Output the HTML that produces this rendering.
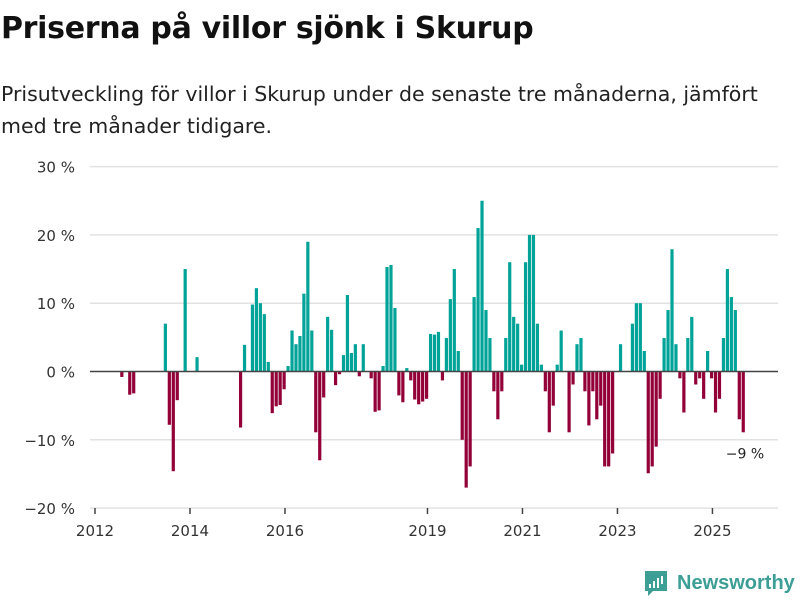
<!DOCTYPE html>
<html><head><meta charset="utf-8">
<style>
body{margin:0;background:#fff;width:800px;height:600px;overflow:hidden;font-family:"DejaVu Sans","Liberation Sans",sans-serif;color:#111}
#title{position:absolute;left:1px;top:11px;font-size:30px;font-weight:bold;margin:0;letter-spacing:-0.3px;white-space:nowrap}
#sub{position:absolute;left:1px;top:78px;font-size:20.5px;line-height:32px;color:#222;margin:0;width:798px}
svg{position:absolute;left:0;top:0}
</style></head><body>
<h1 id="title">Priserna på villor sjönk i Skurup</h1>
<p id="sub">Prisutveckling för villor i Skurup under de senaste tre månaderna, jämfört med tre månader tidigare.</p>
<svg id="chart" width="800" height="600"></svg>
<script>
const startYear = 2012;
const values = [
0,0,0,0,0,0,-0.8,0,-3.4,-3.2,0,0,
0,0,0,0,0,7.0,-7.8,-14.6,-4.2,0,15.0,0,
0,2.1,0,0,0,0,0,0,0,0,0,0,
-8.2,3.9,0,9.8,12.2,10.0,8.4,1.4,-6.1,-5.1,-4.9,-2.6,
0.8,6.0,4.0,5.2,11.4,19.0,6.0,-8.9,-13.0,-3.8,8.0,6.1,
-2.0,-0.4,2.4,11.2,2.7,4.0,-0.7,4.0,0,-1.0,-5.9,-5.7,
0.8,15.3,15.6,9.3,-3.5,-4.5,0.5,-1.3,-4.1,-4.8,-4.4,-4.0,
5.5,5.4,5.8,-1.3,4.9,10.6,15.0,3.0,-10.0,-17.0,-13.9,10.9,
21.0,25.0,9.0,4.9,-2.9,-7.0,-2.9,4.9,16.0,8.0,7.0,1.0,
16.0,20.0,20.0,7.0,1.0,-2.9,-8.9,-5.0,1.0,6.0,0,-8.9,
-1.9,4.0,4.9,-2.9,-7.9,-2.9,-7.0,-5.0,-13.9,-13.9,-12.0,0,
4.0,0,0,7.0,10.0,10.0,3.0,-14.9,-13.9,-11.0,-4.0,4.9,
9.0,17.9,4.0,-1.0,-6.0,4.9,8.0,-1.9,-1.0,-4.0,3.0,-1.0,
-6.0,-4.0,4.9,15.0,10.9,9.0,-7.0,-8.9
];
const yTicks = [30,20,10,0,-10,-20];
const yTickLabels = ["30 %","20 %","10 %","0 %","−10 %","−20 %"];
const xTickYears = [2012,2014,2016,2019,2021,2023,2025];
const lastLabel = "−9 %";

const svg = document.getElementById('chart');
const NS = 'http://www.w3.org/2000/svg';
const FONT = 'DejaVu Sans, Liberation Sans, sans-serif';
function y(v){ return 371.5 - v*6.83; }
function xm(m){ return 95 + m*3.958; }
function mk(tag, attrs){ const e=document.createElementNS(NS,tag); for(const k in attrs) e.setAttribute(k,attrs[k]); svg.appendChild(e); return e; }

yTicks.forEach((t,i)=>{
  if(t!==0){
    const g=mk('line',{x1:90,x2:778,y1:y(t),y2:y(t),stroke:'#e2e2e2','stroke-width':1.5});
    
    
  }
  const tx=mk('text',{x:75,y:y(t)+6,'text-anchor':'end','font-size':15,fill:'#333','font-family':FONT});
  tx.textContent=yTickLabels[i];
  
  
});

values.forEach((v,m)=>{
  if(v===0) return;
  const cx = xm(m+0.78);
  const r=mk('rect',{x:cx-1.6,y:Math.min(y(v),y(0)),width:3.2,height:Math.abs(y(v)-y(0)),fill:v>0?'#00a398':'#930038'});
  
  
});

const zl=mk('line',{x1:90,x2:778,y1:y(0),y2:y(0),stroke:'#444','stroke-width':1.5});



xTickYears.forEach(yr=>{
  const x=xm((yr-startYear)*12);
  const t=mk('line',{x1:x,x2:x,y1:508,y2:514,stroke:'#444','stroke-width':1.5});
  
  
  const tx=mk('text',{x:x,y:536,'text-anchor':'middle','font-size':15,fill:'#333','font-family':FONT});
  tx.textContent=yr;
  
  
});

const ll=mk('text',{x:745,y:y(values[values.length-1])+26,'text-anchor':'middle','font-size':14,fill:'#222','font-family':FONT});
ll.textContent=lastLabel;



const lg=mk('g',{});


const p=document.createElementNS(NS,'path');
p.setAttribute('d','M645 571 h22 v20 h-14 l-5 5 v-5 h-3 z');
p.setAttribute('fill','#3d9e96');
lg.appendChild(p);
[[649,584,2,4],[653,581,2,7],[657,578,2,10],[661,576,2,8]].forEach(b=>{
  const r=document.createElementNS(NS,'rect');
  r.setAttribute('x',b[0]);r.setAttribute('y',b[1]);r.setAttribute('width',b[2]);r.setAttribute('height',b[3]);r.setAttribute('fill','#fff');
  lg.appendChild(r);
});
const lt=document.createElementNS(NS,'text');
lt.setAttribute('x',677);lt.setAttribute('y',589);lt.setAttribute('font-size',20);lt.setAttribute('font-weight','bold');
lt.setAttribute('fill','#3d9e96');lt.setAttribute('font-family','Liberation Sans, sans-serif');
lt.textContent='Newsworthy';
lg.appendChild(lt);
</script>
</body></html>
